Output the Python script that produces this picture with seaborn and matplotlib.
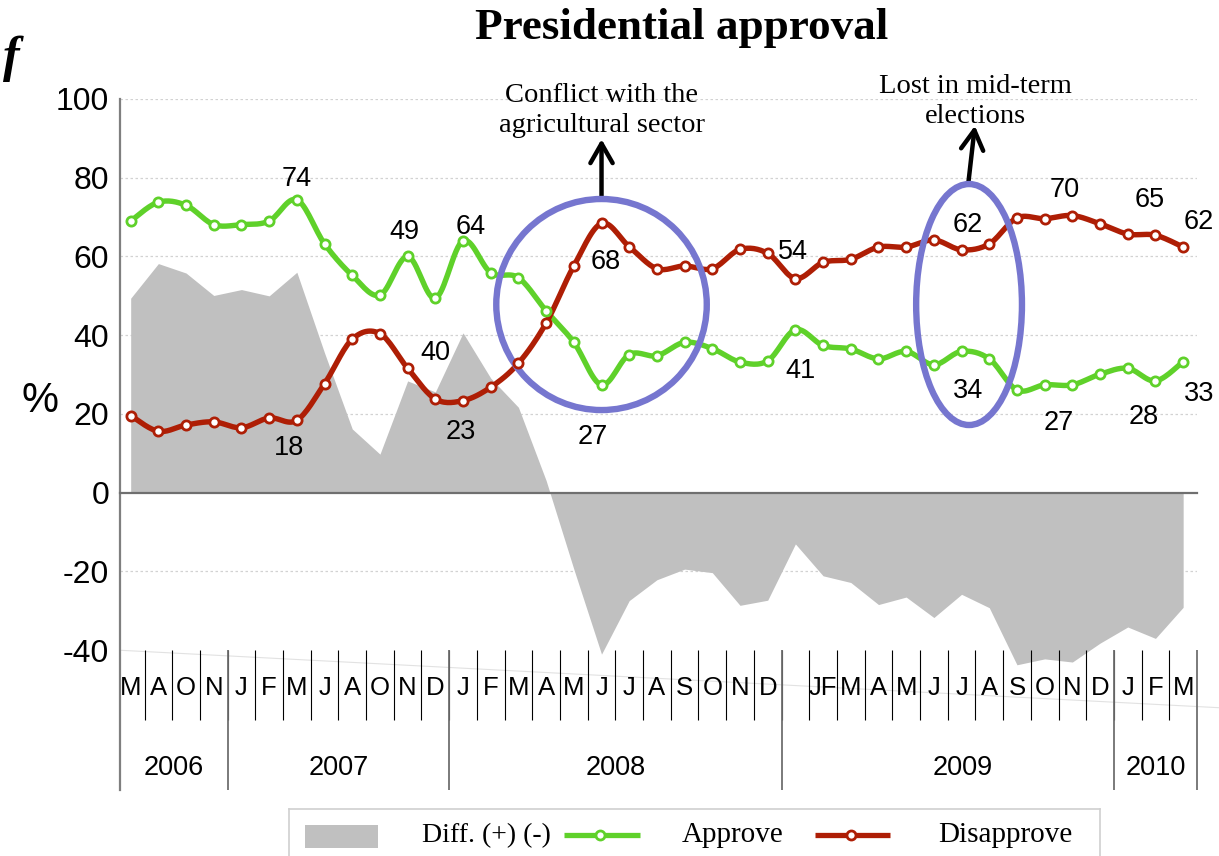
import numpy as np
import matplotlib
matplotlib.use("Agg")
import matplotlib.pyplot as plt
from matplotlib.patches import Ellipse, Rectangle
import seaborn as sns

# ---------------- data: monthly survey results, Mar 2006 - Mar 2010 (%) ----------------
months = ["M", "A", "O", "N",
          "J", "F", "M", "J", "A", "O", "N", "D",
          "J", "F", "M", "A", "M", "J", "J", "A", "S", "O", "N", "D",
          "", "JF", "M", "A", "M", "J", "J", "A", "S", "O", "N", "D",
          "J", "F", "M"]
years = ["2006", "2007", "2008", "2009", "2010"]
year_sizes = [4, 8, 12, 12, 3]

approve = [69.0, 73.8, 73.0, 68.1, 68.1, 69.0, 74.4, 63.2, 55.2, 50.2,
           60.0, 49.4, 64.0, 55.9, 54.6, 46.2, 38.2, 27.4, 35.1, 34.8,
           38.2, 36.6, 33.2, 33.5, 41.4, 37.4, 36.5, 34.0, 35.9, 32.5,
           35.9, 34.0, 26.1, 27.4, 27.4, 30.1, 31.6, 28.4, 33.3]
disapprove = [19.6, 15.6, 17.2, 18.0, 16.5, 19.0, 18.4, 27.7, 39.0, 40.4,
              31.6, 23.8, 23.4, 26.8, 32.9, 43.1, 57.6, 68.4, 62.5, 56.9,
              57.6, 56.9, 61.8, 60.8, 54.4, 58.5, 59.3, 62.4, 62.4, 64.2,
              61.7, 63.2, 69.8, 69.6, 70.4, 68.3, 65.7, 65.4, 62.4]
diff = [49.4, 58.2, 55.8, 50.1, 51.6, 50.0, 56.0, 35.5, 16.2, 9.8,
        28.4, 25.6, 40.6, 29.1, 21.7, 3.1, -19.4, -41.0, -27.4, -22.1,
        -19.4, -20.3, -28.6, -27.3, -13.0, -21.1, -22.8, -28.4, -26.5, -31.7,
        -25.8, -29.2, -43.7, -42.2, -43.0, -38.2, -34.1, -37.0, -29.1]

# ---------------- layout / style ----------------
GREEN = "#5fd12a"
RED = "#ae1e05"
AREA = "#c0c0c0"
RING = "#7676cf"
SANS = "Liberation Sans"
SERIF = "Liberation Serif"

# value labels: (series, point index, x shift, y shift)
label_layout = [
    ("approve", 6, 0.0, 6.0), ("approve", 11, -1.13, 17.5),
    ("approve", 12, 0.27, 4.2), ("approve", 17, -0.3, -12.6),
    ("approve", 24, 0.18, -9.7), ("approve", 31, -0.76, -7.5),
    ("approve", 33, 0.5, -9.0), ("approve", 37, -0.43, -8.4),
    ("approve", 38, 0.57, -7.5),
    ("disapprove", 6, -0.28, -6.4), ("disapprove", 9, 2.0, -4.2),
    ("disapprove", 12, -0.08, -7.2), ("disapprove", 17, 0.15, -9.1),
    ("disapprove", 24, -0.1, 7.4), ("disapprove", 30, 0.24, 7.0),
    ("disapprove", 34, -0.26, 7.1), ("disapprove", 37, -0.2, 9.6),
    ("disapprove", 38, 0.57, 7.1),
]
year_nudge = {"2009": 0.55}

sns.set_theme(style="white")
plt.rcParams["font.family"] = [SANS, "DejaVu Sans"]
plt.rcParams.update({"text.color": "black", "axes.labelcolor": "black",
                     "xtick.color": "black", "ytick.color": "black",
                     "axes.unicode_minus": False})

W, H = 1219, 856
fig = plt.figure(figsize=(W / 100, H / 100), dpi=100)


def fx(px):
    return px / W


def fy(py):
    return 1 - py / H


ax = fig.add_axes([fx(119.6), fy(790), (1197 - 119.6) / W, (790 - 99) / H])
ax.set_xlim(-0.4, 38.5)
ax.set_ylim(-75.5, 100)

idx = np.arange(len(approve))

# spines and ticks
ax.spines["top"].set_visible(False)
ax.spines["right"].set_visible(False)
ax.spines["left"].set(color="#7f7f7f", linewidth=1.6)
ax.spines["bottom"].set_position(("data", 0))
ax.spines["bottom"].set(color="#6f6f6f", linewidth=1.6)
ax.set_yticks(range(-40, 101, 20))
ax.tick_params(axis="y", direction="out", length=6.5, width=1.2,
               color="#7f7f7f", pad=1, labelsize=23, labelcolor="black")
ax.set_xticks(np.arange(11.5, 38, 12))
ax.set_xticks(np.arange(5.5, 38, 12), minor=True)
ax.tick_params(axis="x", which="major", direction="out", length=7, width=1.2,
               color="#6f6f6f", labelbottom=False)
ax.tick_params(axis="x", which="minor", direction="in", length=5, width=1.2,
               color="#6f6f6f", labelbottom=False)
ax.set_xlabel("")
ax.set_ylabel("")

# dotted horizontal grid
for v in [100, 80, 60, 40, 20, -20]:
    ax.axhline(v, color="#d2d2d2", lw=0.9, ls=(0, (2, 2)), zorder=0)
ax.plot([-0.4, 39.3], [-40, -54.6], color="#e2e2e2", lw=0.8, clip_on=False, zorder=0)

# difference area
ax.fill_between(idx, diff, 0, color=AREA, lw=0, zorder=1)


def smooth_path(xs, ys, n=16):
    """Bezier path through every point (Catmull-Rom style tangents)."""
    P = np.column_stack([np.asarray(xs, float), np.asarray(ys, float)])
    Pp = np.vstack([P[0], P, P[-1]])
    t = np.linspace(0, 1, n + 1)[1:, None]
    out = [P[:1]]
    for k in range(len(P) - 1):
        p0, p1, p2, p3 = Pp[k], Pp[k + 1], Pp[k + 2], Pp[k + 3]
        b1 = p1 + (p2 - p0) / 6
        b2 = p2 - (p3 - p1) / 6
        out.append((1 - t) ** 3 * p1 + 3 * (1 - t) ** 2 * t * b1
                   + 3 * (1 - t) * t ** 2 * b2 + t ** 3 * p2)
    return np.vstack(out)


for vals, col in [(approve, GREEN), (disapprove, RED)]:
    c = smooth_path(idx, vals)
    sns.lineplot(x=c[:, 0], y=c[:, 1], sort=False, estimator=None,
                 color=col, lw=3.9, ax=ax, zorder=3)
    sns.scatterplot(x=idx, y=vals, color="white", edgecolor=col, linewidth=2.0,
                    s=44, ax=ax, zorder=5, legend=False)

# highlighted periods
ax.add_patch(Ellipse((17.0, 47.8), 7.6, 53.6, fill=False, ec=RING, lw=4.6, zorder=4))
ax.add_patch(Ellipse((30.27, 47.8), 3.82, 61.2, fill=False, ec=RING, lw=4.6, zorder=4))
arrow = dict(arrowstyle="->,head_length=0.7,head_width=0.4", lw=3.2,
             color="black", shrinkA=0, shrinkB=0, mutation_scale=20)
ax.annotate("", xy=(17.0, 89.8), xytext=(17.0, 75.1), arrowprops=arrow,
            annotation_clip=False)
ax.annotate("", xy=(30.48, 93.2), xytext=(30.24, 78.4), arrowprops=arrow,
            annotation_clip=False)
fig.text(fx(601.7), fy(131.7), "Conflict with the\nagricultural sector", ha="center",
         va="baseline", family=SERIF, fontsize=20.5, linespacing=1.27)
fig.text(fx(975.8), fy(123), "Lost in mid-term\nelections", ha="center",
         va="baseline", family=SERIF, fontsize=20.5, linespacing=1.27)

# value labels
series = {"approve": approve, "disapprove": disapprove}
for name, i, dx, dy in label_layout:
    v = series[name][i]
    ax.annotate(f"{round(v)}", (i + dx, v + dy), xytext=(0, -7.0),
                textcoords="offset points", ha="center", va="baseline",
                fontsize=19.5, zorder=6, annotation_clip=False)

# month / year label table
ax.vlines(np.arange(0.5, 38, 1), -40, -57.6, color="black", lw=0.8, zorder=2)
bounds = np.cumsum(year_sizes) - 0.5
ax.vlines(bounds, -40, -75.5, color="#6f6f6f", lw=1.3, zorder=2, clip_on=False)
for i, m in enumerate(months):
    ax.text(i, -51.4, m, ha="center", va="baseline", fontsize=18.5)
starts = np.concatenate([[-0.4], bounds[:-1]])
for y, a, b in zip(years, starts, bounds):
    ax.text((a + b) / 2 + year_nudge.get(y, 0), -71.6, y, ha="center",
            va="baseline", fontsize=19.5)

# titles and axis mark
fig.text(fx(681.5), fy(38.5), "Presidential approval", ha="center", va="baseline",
         family=SERIF, fontweight="bold", fontsize=32.5)
fig.text(fx(3), fy(70.5), "f", ha="left", va="baseline", family=SERIF,
         fontstyle="italic", fontweight="bold", fontsize=36)
fig.text(fx(40), fy(412), "%", ha="center", va="baseline", fontsize=30)

# legend strip
lax = fig.add_axes([fx(289), 0, (1100 - 289) / W, (856 - 809) / H])
lax.set_xlim(289, 1100)
lax.set_ylim(856, 809)
lax.set_xticks([])
lax.set_yticks([])
for s in ["left", "top", "right"]:
    lax.spines[s].set(color="#d0d0d0", linewidth=1.2)
lax.spines["bottom"].set_visible(False)
lax.add_patch(Rectangle((305, 825.3), 72.7, 22.4, color=AREA, lw=0))
for x0, x1, xm, col in [(564, 640, 600, GREEN), (815, 890, 850.7, RED)]:
    lax.plot([x0, x1], [834.5, 834.5], color=col, lw=3.8, solid_capstyle="butt")
    lax.plot([xm], [834.5], "o", mfc="white", mec=col, ms=6.5, mew=2.0)
for x0, txt, size in [(421.7, "Diff. (+) (-)", 20), (681.7, "Approve", 21),
                      (938, "Disapprove", 21)]:
    lax.text(x0, 842, txt, ha="left", va="baseline", family=SERIF, fontsize=size)

fig.savefig("out.png", dpi=100)
